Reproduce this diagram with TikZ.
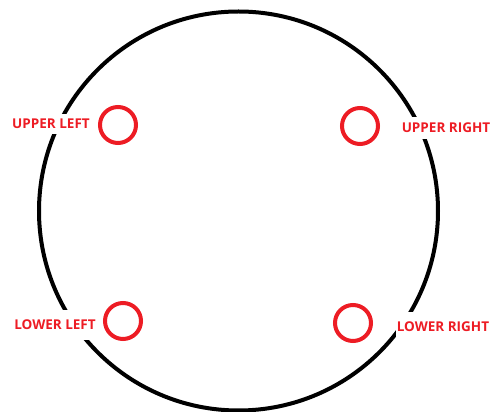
\documentclass[tikz,border=0pt]{standalone}
\usepackage{fontspec}
\setmainfont{Open Sans}
\definecolor{paintred}{RGB}{237,28,36}
\tikzset{
  ring/.style={draw=paintred, line width=4pt, circle, minimum size=36pt, inner sep=0pt},
  lbl/.style={fill=white, text=paintred, font=\fontsize{13.5pt}{15pt}\selectfont\bfseries, inner xsep=1pt}
}
\begin{document}
\begin{tikzpicture}[x=1pt,y=1pt]
\useasboundingbox (0,0) rectangle (491,412);
\fill[white] (0,0) rectangle (491,412);
\node[draw=black, line width=4pt, circle, minimum size=399pt, inner sep=0pt] (big) at (238.5,201) {};
\node[lbl, inner ysep=5pt] (tul) at (51,288) {UPPER LEFT};
\node[lbl, inner ysep=6pt] (tur) at (446,284) {UPPER RIGHT};
\node[lbl, inner ysep=10pt] (tll) at (55,87) {LOWER LEFT};
\node[lbl, inner ysep=10pt] (tlr) at (443,85) {LOWER RIGHT};
\node[ring] (cul) at (118,287) {};
\node[ring] (cur) at (360,286) {};
\node[ring] (cll) at (123,91) {};
\node[ring] (clr) at (353,89) {};
\end{tikzpicture}
\end{document}
